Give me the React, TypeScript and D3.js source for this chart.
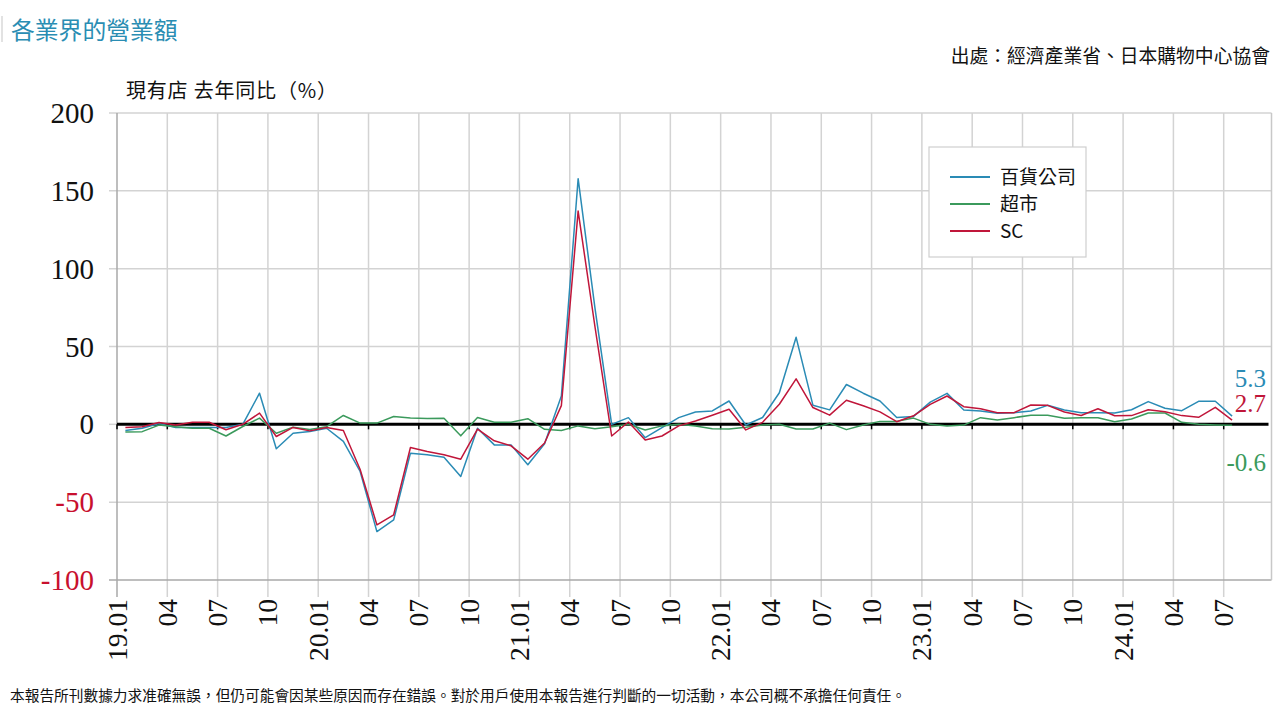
import React, { useEffect, useRef } from 'react';
import * as d3 from 'd3';

// 월별 데이터 (2019.01 ~ 2024.07), 현유점 전년동월비 %
const DEPT_STORE = [
  -4, -2.5, 0.5, -2, -2, -2, -2, 0, 20, -15.7, -5.7, -4.6,
  -2.5, -11, -30.3, -68.9, -61.4, -18.5, -19.5, -21.1, -33.5, -2.5, -13.2, -13.2,
  -26, -12.5, 18.2, 157.8, 75, 0, 4.3, -8.6, -2.1, 4.3, 7.9, 8.6,
  15, -0.4, 4.4, 20.3, 55.9, 12.3, 9.3, 25.6, 20, 15, 4.4, 5.1,
  14.3, 19.9, 9.2, 8.6, 7.1, 7.5, 8.6, 12.2, 9.2, 7.5, 7.5, 7.3,
  9.4, 14.6, 10.3, 8.8, 14.8, 14.8, 5.3
];
const SUPERMARKET = [
  -5, -4.7, -0.5, -1.5, -2.5, -2.5, -7.5, -1.4, 4, -5.7, -1.8, -3.3,
  -1.5, 5.7, 0.8, 0.8, 5, 4, 3.8, 3.9, -7.4, 4.4, 1.4, 1.4,
  3.6, -3.2, -3.9, -1, -2.8, -1.5, 0, -3.6, -1, 0, -1, -2.8,
  -3, -1.9, -0.4, 0, -3, -3, 0.8, -3.4, -0.4, 1.9, 1.9, 4,
  0, -1, -0.5, 4.3, 2.8, 4.3, 5.8, 5.8, 3.9, 4.2, 4.2, 1.6,
  3.4, 7.3, 7.3, 1.3, 0, -0.4, -0.6
];
const SC = [
  -2, -1.5, 1.2, -0.5, 1.3, 1.3, -3.5, 0, 7.2, -7.8, -2, -4.2,
  -2, -4, -29, -64.6, -58.1, -14.9, -17.5, -19.6, -22.4, -3.1, -10.6, -13.8,
  -22.4, -12, 12, 137, 63, -7.5, 1.5, -10, -7.5, -1, 2.1, 5.8,
  9.7, -3.6, 1.3, 12.9, 29.2, 10.8, 5.9, 15.5, 11.9, 8, 1.7, 5.5,
  12.8, 18.2, 11.3, 10, 7.5, 7.5, 12.4, 12.2, 7.9, 5.7, 10, 5.5,
  5.6, 9.4, 8.1, 5.6, 4.5, 10.9, 2.7
];

const X_TICK_LABELS = [
  '19.01', '04', '07', '10', '20.01', '04', '07', '10', '21.01', '04', '07', '10',
  '22.01', '04', '07', '10', '23.01', '04', '07', '10', '24.01', '04', '07'
];
const Y_TICKS = [-100, -50, 0, 50, 100, 150, 200];

const SERIES = [
  { name: '百貨公司', values: DEPT_STORE, color: '#2a8bb5', last: '5.3' },
  { name: '超市', values: SUPERMARKET, color: '#3b9a5c', last: '-0.6' },
  { name: 'SC', values: SC, color: '#c0163a', last: '2.7' }
];
const LEGEND_ORDER = ['百貨公司', '超市', 'SC'];

const CJK = '"Noto Sans CJK TC", "Noto Sans", sans-serif';
const SERIF = '"Liberation Serif", "DejaVu Serif", serif';

export default function App() {
  const svgRef = useRef<SVGSVGElement>(null);

  useEffect(() => {
    const svg = d3.select(svgRef.current);
    svg.selectAll('*').remove();

    // 플롯 영역
    const left = 117, right = 1271.5, top = 113, bottom = 580;
    const nMonths = 68.85;

    const x = d3.scaleLinear().domain([0, nMonths]).range([left, right]);
    const y = d3.scaleLinear().domain([-100, 200]).range([bottom, top]);

    // 제목
    svg.append('line')
      .attr('x1', 2).attr('x2', 2).attr('y1', 16).attr('y2', 42)
      .attr('stroke', '#d8d8d8').attr('stroke-width', 1.5);
    svg.append('text')
      .attr('x', 11).attr('y', 39)
      .style('font-family', CJK).style('font-size', '23.8px')
      .attr('fill', '#2a8db3')
      .text('各業界的營業額');

    svg.append('text')
      .attr('x', 1270).attr('y', 63)
      .attr('text-anchor', 'end')
      .style('font-family', CJK).style('font-size', '18.8px')
      .attr('fill', '#111')
      .text('出處：經濟產業省、日本購物中心協會');

    svg.append('text')
      .attr('x', 126).attr('y', 98)
      .style('font-family', CJK).style('font-size', '20px')
      .style('letter-spacing', '0.8px')
      .attr('fill', '#111')
      .text('現有店 去年同比（%）');

    // 그리드
    const grid = svg.append('g');
    const quarterIdx = X_TICK_LABELS.map((_, i) => i * 3);
    grid.selectAll('.vgrid')
      .data(quarterIdx.filter(i => i > 0))
      .join('line')
        .attr('x1', d => x(d)).attr('x2', d => x(d))
        .attr('y1', top).attr('y2', bottom + 17)
        .attr('stroke', '#d3d3d3').attr('stroke-width', 1.5);
    grid.selectAll('.hgrid')
      .data(Y_TICKS.filter(v => v !== 0))
      .join('line')
        .attr('x1', left - 8).attr('x2', right)
        .attr('y1', d => y(d)).attr('y2', d => y(d))
        .attr('stroke', d => d === -100 ? '#a8a8a8' : '#d3d3d3')
        .attr('stroke-width', 1.5);
    grid.append('line')
      .attr('x1', right).attr('x2', right).attr('y1', top).attr('y2', bottom)
      .attr('stroke', '#c8c8c8').attr('stroke-width', 1.5);
    grid.append('line')
      .attr('x1', left - 8).attr('x2', left)
      .attr('y1', y(0)).attr('y2', y(0))
      .attr('stroke', '#d3d3d3').attr('stroke-width', 1.5);
    grid.append('line')
      .attr('x1', left).attr('x2', left).attr('y1', top).attr('y2', bottom + 17)
      .attr('stroke', '#a8a8a8').attr('stroke-width', 1.5);

    // Y축 라벨
    svg.append('g').selectAll('text')
      .data(Y_TICKS)
      .join('text')
        .attr('x', 94)
        .attr('y', d => y(d) + 10)
        .attr('text-anchor', 'end')
        .style('font-family', SERIF).style('font-size', '29px')
        .attr('fill', d => d < 0 ? '#c8102e' : '#111')
        .text(d => d);

    // X축 라벨 (세로)
    svg.append('g').selectAll('text')
      .data(X_TICK_LABELS)
      .join('text')
        .attr('transform', (d, i) => `translate(${x(i * 3) + 9.5},${bottom + 19}) rotate(-90)`)
        .attr('text-anchor', 'end')
        .style('font-family', SERIF).style('font-size', '27.5px')
        .attr('fill', '#111')
        .text(d => d);

    // 0 기준선
    svg.append('line')
      .attr('x1', left).attr('x2', right - 3)
      .attr('y1', y(0)).attr('y2', y(0))
      .attr('stroke', '#000').attr('stroke-width', 3);
    svg.append('g').selectAll('line')
      .data(quarterIdx)
      .join('line')
        .attr('x1', d => x(d)).attr('x2', d => x(d))
        .attr('y1', y(0)).attr('y2', y(0) + 5)
        .attr('stroke', '#000').attr('stroke-width', 1.5);

    // 선
    const line = d3.line<number>()
      .x((d, i) => x(i + 0.5))
      .y(d => y(d));

    svg.append('g').selectAll('path')
      .data(SERIES)
      .join('path')
        .attr('d', d => line(d.values))
        .attr('fill', 'none')
        .attr('stroke', d => d.color)
        .attr('stroke-width', 1.5)
        .attr('stroke-linejoin', 'round');

    // 끝값 라벨
    const labelY: Record<string, number> = { '百貨公司': 378, '超市': 462, 'SC': 403 };
    svg.append('g').selectAll('text')
      .data(SERIES)
      .join('text')
        .attr('x', 1266)
        .attr('y', d => labelY[d.name] + 9)
        .attr('text-anchor', 'end')
        .style('font-family', SERIF).style('font-size', '25px')
        .attr('fill', d => d.color)
        .text(d => d.last);

    // 범례
    const legend = svg.append('g');
    legend.append('rect')
      .attr('x', 929).attr('y', 147).attr('width', 157).attr('height', 110)
      .attr('fill', '#fff').attr('stroke', '#cfcfcf').attr('stroke-width', 1.2);
    LEGEND_ORDER.forEach((name, i) => {
      const s = SERIES.find(s => s.name === name)!;
      const ly = 177 + i * 27;
      legend.append('line')
        .attr('x1', 950).attr('x2', 990).attr('y1', ly).attr('y2', ly)
        .attr('stroke', s.color).attr('stroke-width', 2);
      legend.append('text')
        .attr('x', 1000).attr('y', ly + 7)
        .style('font-family', CJK).style('font-size', '19px')
        .attr('fill', '#111')
        .text(name);
    });

    // 면책 문구
    svg.append('text')
      .attr('x', 10).attr('y', 701)
      .style('font-family', CJK).style('font-size', '14.7px')
      .attr('fill', '#111')
      .text('本報告所刊數據力求准確無誤，但仍可能會因某些原因而存在錯誤。對於用戶使用本報告進行判斷的一切活動，本公司概不承擔任何責任。');
  }, []);

  return (
    <svg
      ref={svgRef}
      width={1280}
      height={720}
      style={{ position: 'absolute', left: 0, top: 0, background: '#fff' }}
    />
  );
}
